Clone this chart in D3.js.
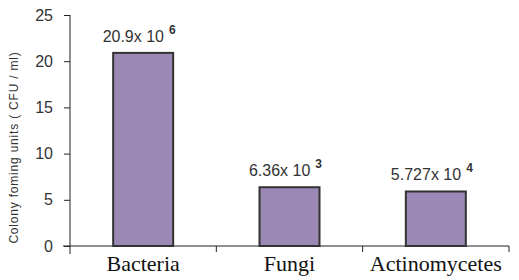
<!DOCTYPE html>
<html>
<head>
<meta charset="utf-8">
<script src="https://cdn.jsdelivr.net/npm/d3@7"></script>
<style>
  body { margin: 0; background: #fff; }
  svg { display: block; }
</style>
</head>
<body>
<div id="chart"></div>
<script>
// data
let categories = ['Bacteria', 'Fungi', 'Actinomycetes'];
let values = [20.9, 6.36, 5.9];
let labelMantissa = ['20.9x 10', '6.36x 10', '5.727x 10'];
let labelExponent = ['6', '3', '4'];
let yTicks = [0, 5, 10, 15, 20, 25];

let width = 519, height = 280;
let margin = {top: 15, right: 10, bottom: 34, left: 70};
let renderWidth = width - margin.left - margin.right;
let renderHeight = height - margin.top - margin.bottom;

let svg = d3.select('#chart').append('svg').attr('width', width).attr('height', height);
let g = svg.append('g').attr('transform', 'translate(' + [margin.left, margin.top] + ')');

let xScale = d3.scaleBand().domain(categories).range([0, renderWidth]).paddingInner(0.59).paddingOuter(0.295);
let yScale = d3.scaleLinear().domain([0, 25]).range([renderHeight, 0]);

// y axis
let yAxis = d3.axisLeft(yScale).tickValues(yTicks).tickSize(6).tickPadding(11);
let yG = g.append('g').attr('class', 'yAxis').call(yAxis);
yG.select('.domain').attr('d', 'M0,0V' + (renderHeight + 8));
yG.selectAll('text').attr('font-family', 'Liberation Sans, Arial, sans-serif').attr('font-size', 16).attr('fill', '#333');
yG.selectAll('line, .domain').attr('stroke', '#222');

// x axis: separators between categories
let step = renderWidth / categories.length;
let xG = g.append('g').attr('class', 'xAxis').attr('transform', 'translate(0,' + renderHeight + ')');
xG.append('line').attr('x1', -7).attr('x2', renderWidth).attr('y1', 0).attr('y2', 0).attr('stroke', '#222');
xG.selectAll('.sep').data(d3.range(1, categories.length + 1)).enter().append('line')
  .attr('class', 'sep')
  .attr('x1', d => d * step).attr('x2', d => d * step)
  .attr('y1', 0).attr('y2', 6).attr('stroke', '#222');
xG.selectAll('.cat').data(categories).enter().append('text')
  .attr('class', 'cat')
  .attr('x', d => xScale(d) + xScale.bandwidth() / 2)
  .attr('y', 25)
  .attr('text-anchor', 'middle')
  .attr('font-family', 'Liberation Serif, Times New Roman, serif')
  .attr('font-size', 22)
  .attr('fill', '#111')
  .text(d => d);

// bars
g.selectAll('.bar').data(values).enter().append('rect')
  .attr('class', 'bar')
  .attr('x', (d, i) => xScale(categories[i]))
  .attr('y', d => yScale(d))
  .attr('width', xScale.bandwidth())
  .attr('height', d => yScale(0) - yScale(d))
  .attr('fill', '#9c88b4')
  .attr('stroke', '#333')
  .attr('stroke-width', 2);

// value labels
let lbl = g.selectAll('.vlabel').data(values).enter().append('text')
  .attr('class', 'vlabel')
  .attr('x', (d, i) => xScale(categories[i]) + xScale.bandwidth() / 2 - 4)
  .attr('y', d => yScale(d) - 11)
  .attr('text-anchor', 'middle')
  .attr('font-family', 'Liberation Sans, Arial, sans-serif')
  .attr('font-size', 16)
  .attr('fill', '#333');
lbl.append('tspan').text((d, i) => labelMantissa[i]);
lbl.append('tspan').attr('dx', 5).attr('dy', -8).attr('font-size', 12).attr('font-weight', 'bold').text((d, i) => labelExponent[i]);

// y axis title
svg.append('text')
  .attr('transform', 'translate(18,' + (margin.top + renderHeight / 2 + 17) + ') rotate(-90)')
  .attr('text-anchor', 'middle')
  .attr('font-family', 'Liberation Sans, Arial, sans-serif')
  .attr('font-size', 12)
  .attr('letter-spacing', 0.8)
  .attr('fill', '#333')
  .text('Colony foming units ( CFU / ml)');
</script>
</body>
</html>
